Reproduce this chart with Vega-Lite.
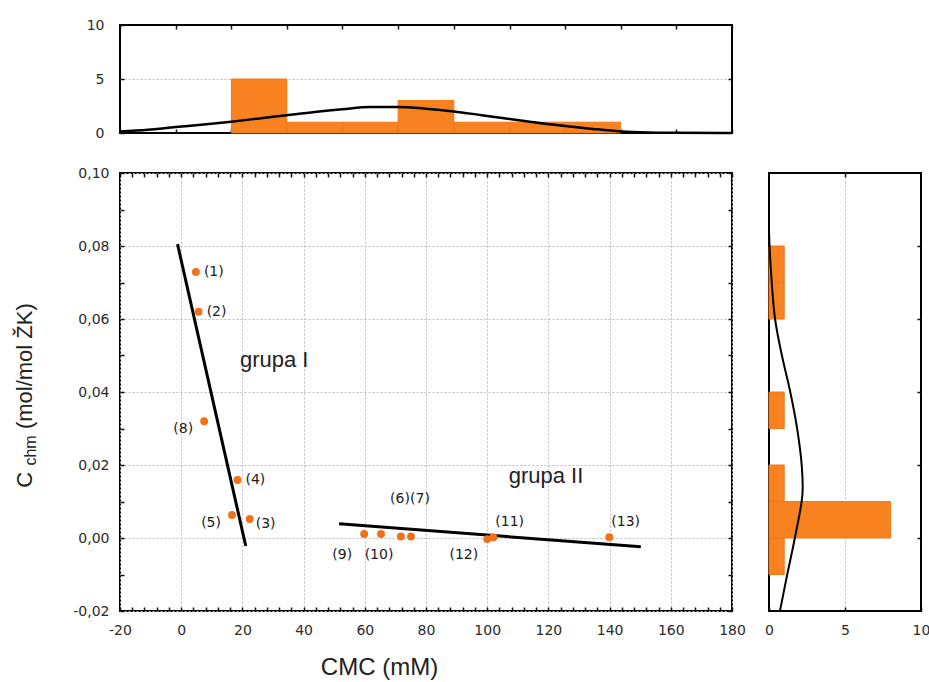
{
  "$schema": "https://vega.github.io/schema/vega-lite/v6.json",
  "background": "white",
  "padding": {"left": 12, "top": 17, "right": 0, "bottom": 5},
  "config": {
    "view": {"stroke": "black", "strokeWidth": 2},
    "axis": {
      "labelFont": "DejaVu Sans",
      "labelFontSize": 14,
      "labelColor": "#2a2a2a",
      "titleFont": "Liberation Sans",
      "titleFontWeight": "normal",
      "titleColor": "#222222",
      "domain": false,
      "tickColor": "#111111",
      "tickWidth": 1.5,
      "gridColor": "#bdbdbd",
      "gridDash": [2, 2],
      "gridWidth": 1,
      "labelOverlap": false,
      "labelFlush": false
    }
  },
  "datasets": {
    "samples": [
      {"id": 1, "label": "(1)", "cmc": 4.8, "c": 0.0729},
      {"id": 2, "label": "(2)", "cmc": 5.7, "c": 0.062},
      {"id": 3, "label": "(3)", "cmc": 22.4, "c": 0.0052},
      {"id": 4, "label": "(4)", "cmc": 18.4, "c": 0.0159},
      {"id": 5, "label": "(5)", "cmc": 16.6, "c": 0.0063},
      {"id": 6, "label": "(6)", "cmc": 71.8, "c": 0.0004},
      {"id": 7, "label": "(7)", "cmc": 75.1, "c": 0.0004},
      {"id": 8, "label": "(8)", "cmc": 7.5, "c": 0.032},
      {"id": 9, "label": "(9)", "cmc": 59.8, "c": 0.0011},
      {"id": 10, "label": "(10)", "cmc": 65.3, "c": 0.0011},
      {"id": 11, "label": "(11)", "cmc": 102.0, "c": 0.0002},
      {"id": 12, "label": "(12)", "cmc": 100.0, "c": -0.0003},
      {"id": 13, "label": "(13)", "cmc": 139.9, "c": 0.0002}
    ],
    "fits": [
      {"group": "I", "cmc": -1.2, "c": 0.0805},
      {"group": "I", "cmc": 21.1, "c": -0.0022},
      {"group": "II", "cmc": 51.6, "c": 0.0039},
      {"group": "II", "cmc": 150.2, "c": -0.0024}
    ],
    "notes": [
      {"text": "grupa I", "cmc": 30.4, "c": 0.0488},
      {"text": "grupa II", "cmc": 119.2, "c": 0.0171}
    ],
    "cmcHist": [
      {"lo": 16.4, "hi": 34.5, "n": 5},
      {"lo": 34.5, "hi": 52.7, "n": 1},
      {"lo": 52.7, "hi": 70.9, "n": 1},
      {"lo": 70.9, "hi": 89.1, "n": 3},
      {"lo": 89.1, "hi": 107.3, "n": 1},
      {"lo": 107.3, "hi": 125.5, "n": 1},
      {"lo": 125.5, "hi": 143.6, "n": 1}
    ],
    "cmcNormal": [
      {"cmc": -20, "n": 0.13},
      {"cmc": -10.9, "n": 0.3},
      {"cmc": -1.8, "n": 0.55},
      {"cmc": 7.3, "n": 0.78},
      {"cmc": 16.4, "n": 1.05},
      {"cmc": 25.5, "n": 1.35},
      {"cmc": 34.5, "n": 1.65},
      {"cmc": 43.6, "n": 1.95},
      {"cmc": 52.7, "n": 2.2},
      {"cmc": 61.8, "n": 2.4},
      {"cmc": 70.9, "n": 2.4},
      {"cmc": 80.0, "n": 2.25},
      {"cmc": 89.1, "n": 2.0},
      {"cmc": 98.2, "n": 1.65},
      {"cmc": 107.3, "n": 1.3},
      {"cmc": 116.4, "n": 0.95},
      {"cmc": 125.5, "n": 0.65},
      {"cmc": 134.5, "n": 0.38},
      {"cmc": 143.6, "n": 0.15},
      {"cmc": 152.7, "n": 0.05},
      {"cmc": 161.8, "n": 0.02},
      {"cmc": 180, "n": 0.0}
    ],
    "cHist": [
      {"lo": -0.01, "hi": 0.0, "n": 1},
      {"lo": 0.0, "hi": 0.01, "n": 8},
      {"lo": 0.01, "hi": 0.02, "n": 1},
      {"lo": 0.03, "hi": 0.04, "n": 1},
      {"lo": 0.06, "hi": 0.07, "n": 1},
      {"lo": 0.07, "hi": 0.08, "n": 1}
    ],
    "cNormal": [
      {"c": -0.02, "n": 0.72},
      {"c": -0.01, "n": 1.2},
      {"c": 0.0, "n": 1.7},
      {"c": 0.012, "n": 2.2},
      {"c": 0.02, "n": 2.15},
      {"c": 0.03, "n": 1.85},
      {"c": 0.04, "n": 1.4},
      {"c": 0.05, "n": 0.85},
      {"c": 0.06, "n": 0.4},
      {"c": 0.075, "n": 0.1},
      {"c": 0.084, "n": 0.0}
    ]
  },
  "columns": 2,
  "align": "each",
  "spacing": {"row": 24, "column": 16},
  "concat": [
    {
      "width": 612,
      "height": 108,
      "layer": [
        {
          "data": {"name": "cmcHist"},
          "mark": {"type": "rect", "fill": "#f7821f", "stroke": "#f07816", "strokeWidth": 1},
          "encoding": {
            "x": {
              "field": "lo", "type": "quantitative",
              "scale": {"domain": [-20, 180], "nice": false, "zero": false},
              "axis": {"orient": "bottom", "values": [-20, -1.8, 16.4, 34.5, 52.7, 70.9, 89.1, 107.3, 125.5, 143.6, 161.8, 180], "labels": false, "grid": false, "tickSize": -4, "title": null}
            },
            "x2": {"field": "hi"},
            "y": {
              "field": "n", "type": "quantitative",
              "scale": {"domain": [0, 10], "nice": false, "zero": true},
              "axis": {"orient": "left", "values": [0, 5, 10], "grid": true, "gridOpacity": {"condition": {"test": "datum.value == 5", "value": 1}, "value": 0}, "tickSize": -4, "labelPadding": 20, "title": null}
            },
            "y2": {"datum": 0}
          }
        },
        {
          "data": {"name": "cmcNormal"},
          "mark": {"type": "line", "color": "black", "strokeWidth": 2.5, "interpolate": "monotone"},
          "encoding": {
            "x": {
              "field": "cmc", "type": "quantitative",
              "scale": {"domain": [-20, 180], "nice": false, "zero": false},
              "axis": {"orient": "top", "values": [-20, -1.8, 16.4, 34.5, 52.7, 70.9, 89.1, 107.3, 125.5, 143.6, 161.8, 180], "labels": false, "grid": false, "tickSize": -4, "title": null}
            },
            "y": {
              "field": "n", "type": "quantitative",
              "scale": {"domain": [0, 10], "nice": false, "zero": true},
              "axis": {"orient": "right", "values": [5], "labels": false, "grid": false, "tickSize": -4, "title": null}
            }
          }
        }
      ],
      "resolve": {"axis": {"x": "independent", "y": "independent"}}
    },
    {
      "width": 152,
      "height": 108,
      "view": {"stroke": null},
      "data": {"values": [{}]},
      "mark": {"type": "text", "text": ""},
      "encoding": {}
    },
    {
      "width": 612,
      "height": 438,
      "encoding": {
        "x": {"field": "cmc", "type": "quantitative", "scale": {"domain": [-20, 180], "nice": false, "zero": false}, "axis": null},
        "y": {"field": "c", "type": "quantitative", "scale": {"domain": [-0.02, 0.1], "nice": false, "zero": false}, "axis": null}
      },
      "layer": [
        {
          "data": {"name": "fits"},
          "mark": {"type": "line", "color": "black", "strokeWidth": 3},
          "encoding": {
            "x": {
              "field": "cmc", "type": "quantitative",
              "scale": {"domain": [-20, 180], "nice": false, "zero": false},
              "axis": {
                "orient": "bottom",
                "values": [-20, -16, -12, -8, -4, 0, 4, 8, 12, 16, 20, 24, 28, 32, 36, 40, 44, 48, 52, 56, 60, 64, 68, 72, 76, 80, 84, 88, 92, 96, 100, 104, 108, 112, 116, 120, 124, 128, 132, 136, 140, 144, 148, 152, 156, 160, 164, 168, 172, 176, 180],
                "labelExpr": "datum.value % 20 == 0 ? replace(datum.label, '\u2212', '-') : ''",
                "grid": true,
                "gridOpacity": {"condition": {"test": "datum.value % 20 == 0", "value": 1}, "value": 0},
                "tickSize": -4,
                "labelPadding": 16,
                "title": "CMC (mM)",
                "titleFontSize": 24,
                "titleX": 259,
                "titlePadding": 18
              }
            },
            "y": {
              "field": "c", "type": "quantitative",
              "scale": {"domain": [-0.02, 0.1], "nice": false, "zero": false},
              "axis": {
                "orient": "left",
                "values": [-0.02, -0.01, 0, 0.01, 0.02, 0.03, 0.04, 0.05, 0.06, 0.07, 0.08, 0.09, 0.1],
                "labelExpr": "abs(round(datum.value * 100)) % 2 == 0 ? replace(replace(format(datum.value, '.2f'), '.', ','), '\u2212', '-') : ''",
                "grid": true,
                "gridOpacity": {"condition": {"test": "abs(round(datum.value * 100)) % 2 == 0", "value": 1}, "value": 0},
                "tickSize": -4,
                "labelPadding": 15,
                "title": "C\u00a0\u00a0\u00a0\u00a0\u00a0\u00a0\u00a0(mol/mol ŽK)",
                "titleFontSize": 22,
                "titleAngle": -90,
                "titleAlign": "center",
                "titleBaseline": "alphabetic",
                "titleX": -89,
                "titleY": 222
              }
            },
            "detail": {"field": "group"}
          }
        },
        {
          "data": {"name": "samples"},
          "mark": {"type": "circle", "size": 62, "color": "#f2701a", "opacity": 1},
          "encoding": {
            "x": {
              "field": "cmc", "type": "quantitative",
              "scale": {"domain": [-20, 180], "nice": false, "zero": false},
              "axis": {
                "orient": "top",
                "values": [-20, -16, -12, -8, -4, 0, 4, 8, 12, 16, 20, 24, 28, 32, 36, 40, 44, 48, 52, 56, 60, 64, 68, 72, 76, 80, 84, 88, 92, 96, 100, 104, 108, 112, 116, 120, 124, 128, 132, 136, 140, 144, 148, 152, 156, 160, 164, 168, 172, 176, 180],
                "labels": false, "grid": false, "tickSize": -4, "title": null
              }
            },
            "y": {
              "field": "c", "type": "quantitative",
              "scale": {"domain": [-0.02, 0.1], "nice": false, "zero": false},
              "axis": {
                "orient": "right",
                "values": [-0.02, -0.01, 0, 0.01, 0.02, 0.03, 0.04, 0.05, 0.06, 0.07, 0.08, 0.09, 0.1],
                "labels": false, "grid": false, "tickSize": -4, "title": null
              }
            }
          }
        },
        {
          "data": {"name": "samples"},
          "transform": [{"filter": {"field": "id", "oneOf": [1, 2, 4]}}],
          "mark": {"type": "text", "align": "left", "baseline": "middle", "dx": 8, "font": "DejaVu Sans", "fontSize": 14, "color": "#1a1a1a"},
          "encoding": {"text": {"field": "label"}}
        },
        {
          "data": {"name": "samples"},
          "transform": [{"filter": {"field": "id", "oneOf": [3]}}],
          "mark": {"type": "text", "align": "left", "baseline": "middle", "dx": 6, "dy": 5, "font": "DejaVu Sans", "fontSize": 14, "color": "#1a1a1a"},
          "encoding": {"text": {"field": "label"}}
        },
        {
          "data": {"name": "samples"},
          "transform": [{"filter": {"field": "id", "oneOf": [5, 8]}}],
          "mark": {"type": "text", "align": "right", "baseline": "middle", "dx": -11, "dy": 8, "font": "DejaVu Sans", "fontSize": 14, "color": "#1a1a1a"},
          "encoding": {"text": {"field": "label"}}
        },
        {
          "data": {"name": "samples"},
          "transform": [{"filter": {"field": "id", "oneOf": [9]}}],
          "mark": {"type": "text", "align": "center", "baseline": "middle", "dx": -22, "dy": 21, "font": "DejaVu Sans", "fontSize": 14, "color": "#1a1a1a"},
          "encoding": {"text": {"field": "label"}}
        },
        {
          "data": {"name": "samples"},
          "transform": [{"filter": {"field": "id", "oneOf": [10]}}],
          "mark": {"type": "text", "align": "center", "baseline": "middle", "dx": -2, "dy": 21, "font": "DejaVu Sans", "fontSize": 14, "color": "#1a1a1a"},
          "encoding": {"text": {"field": "label"}}
        },
        {
          "data": {"name": "samples"},
          "transform": [{"filter": {"field": "id", "oneOf": [12]}}],
          "mark": {"type": "text", "align": "right", "baseline": "middle", "dx": -9, "dy": 16, "font": "DejaVu Sans", "fontSize": 14, "color": "#1a1a1a"},
          "encoding": {"text": {"field": "label"}}
        },
        {
          "data": {"name": "samples"},
          "transform": [{"filter": {"field": "id", "oneOf": [11, 13]}}],
          "mark": {"type": "text", "align": "left", "baseline": "middle", "dx": 2, "dy": -15, "font": "DejaVu Sans", "fontSize": 14, "color": "#1a1a1a"},
          "encoding": {"text": {"field": "label"}}
        },
        {
          "data": {"name": "samples"},
          "transform": [{"filter": {"field": "id", "oneOf": [6]}}],
          "mark": {"type": "text", "align": "right", "baseline": "middle", "dx": 9, "dy": -38, "font": "DejaVu Sans", "fontSize": 14, "color": "#1a1a1a"},
          "encoding": {"text": {"field": "label"}}
        },
        {
          "data": {"name": "samples"},
          "transform": [{"filter": {"field": "id", "oneOf": [7]}}],
          "mark": {"type": "text", "align": "left", "baseline": "middle", "dx": -1, "dy": -38, "font": "DejaVu Sans", "fontSize": 14, "color": "#1a1a1a"},
          "encoding": {"text": {"field": "label"}}
        },
        {
          "data": {"name": "notes"},
          "mark": {"type": "text", "align": "center", "baseline": "middle", "font": "Liberation Sans", "fontSize": 22, "color": "#222222"},
          "encoding": {
            "text": {"field": "text"},
            "y": {
              "field": "c", "type": "quantitative",
              "scale": {"domain": [-0.02, 0.1], "nice": false, "zero": false},
              "axis": {
                "orient": "left", "labels": false, "ticks": false, "grid": false,
                "title": "chm",
                "titleFont": "Liberation Sans",
                "titleFontSize": 16,
                "titleAngle": -90,
                "titleAlign": "center",
                "titleBaseline": "alphabetic",
                "titleX": -85,
                "titleY": 277
              }
            }
          }
        }
      ],
      "resolve": {"axis": {"x": "independent", "y": "independent"}}
    },
    {
      "width": 152,
      "height": 438,
      "layer": [
        {
          "data": {"name": "cHist"},
          "mark": {"type": "rect", "fill": "#f7821f", "stroke": "#f07816", "strokeWidth": 1},
          "encoding": {
            "y": {
              "field": "lo", "type": "quantitative",
              "scale": {"domain": [-0.02, 0.1], "nice": false, "zero": false},
              "axis": {"orient": "right", "values": [0, 0.02, 0.04, 0.06, 0.08], "labels": false, "grid": false, "tickSize": -4, "title": null}
            },
            "y2": {"field": "hi"},
            "x": {
              "field": "n", "type": "quantitative",
              "scale": {"domain": [0, 10], "nice": false, "zero": true},
              "axis": {"orient": "bottom", "values": [0, 5, 10], "grid": true, "gridOpacity": {"condition": {"test": "datum.value == 5", "value": 1}, "value": 0}, "tickSize": -4, "labelPadding": 16, "title": null}
            },
            "x2": {"datum": 0}
          }
        },
        {
          "data": {"name": "cNormal"},
          "mark": {"type": "line", "color": "black", "strokeWidth": 2, "interpolate": "catmull-rom"},
          "encoding": {
            "x": {
              "field": "n", "type": "quantitative",
              "scale": {"domain": [0, 10], "nice": false, "zero": true},
              "axis": {"orient": "top", "values": [5], "labels": false, "grid": false, "tickSize": -4, "title": null}
            },
            "y": {
              "field": "c", "type": "quantitative",
              "scale": {"domain": [-0.02, 0.1], "nice": false, "zero": false},
              "axis": null
            },
            "order": {"field": "c"}
          }
        }
      ],
      "resolve": {"axis": {"x": "independent", "y": "independent"}}
    }
  ]
}
